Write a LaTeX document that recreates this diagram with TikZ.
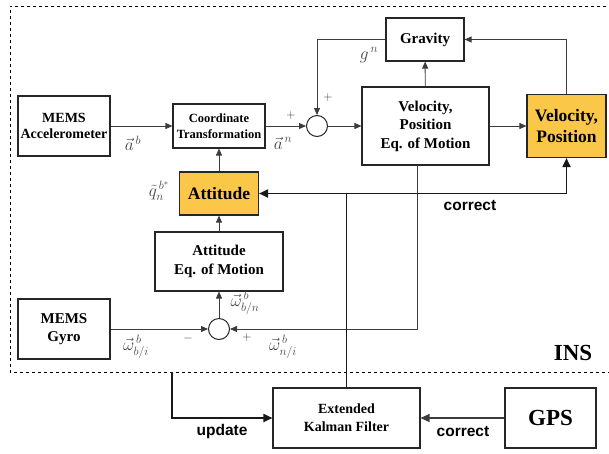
\documentclass[tikz,border=0pt]{standalone}
\usepackage{fontspec}
\setmainfont{Liberation Serif}
\newfontfamily\labelfont{Liberation Sans}
\usepackage{amsmath}
\usetikzlibrary{arrows.meta,calc}

\definecolor{insyellow}{RGB}{250,199,72}
\definecolor{linegray}{RGB}{60,60,60}
\definecolor{mathgray}{RGB}{70,70,70}

\begin{document}
\begin{tikzpicture}[x=1pt,y=-1pt,
  box/.style={draw=black!85,line width=1.1pt,fill=white,align=center,inner sep=1pt,
    font=\bfseries\fontsize{15}{18.5}\selectfont},
  hilite/.style={box,fill=insyellow,font=\bfseries\fontsize{17.5}{21}\selectfont},
  sumpt/.style={draw=black!85,line width=1pt,circle,fill=white,minimum size=21pt,inner sep=0pt},
  sig/.style={draw=linegray,line width=0.9pt,-{Triangle[length=7pt,width=6pt]}},
  bus/.style={draw=black!90,line width=1.8pt,-{Triangle[length=9pt,width=8pt]}},
  sym/.style={text=mathgray,inner sep=0pt,font=\fontsize{16.5}{18}\selectfont},
  sgn/.style={text=black!80,inner sep=0pt,font=\fontsize{12}{14}\selectfont},
  word/.style={font=\labelfont\bfseries\fontsize{15.5}{18}\selectfont}]
\useasboundingbox (0,0) rectangle (609,453);

% INS boundary
\draw[dashed,line width=0.8pt] (612,6) -- (10,6) -- (10,372) -- (612,372);
\node[font=\bfseries\fontsize{23}{26}\selectfont] (ins) at (573,353) {INS};

% Blocks
\node[box,minimum width=92pt,minimum height=60pt,font=\bfseries\fontsize{14}{16}\selectfont] (acc) at (64,126) {MEMS\\Accelerometer};
\node[box,minimum width=92pt,minimum height=44pt,font=\bfseries\fontsize{12.5}{16}\selectfont] (ct) at (219,126) {Coordinate\\Transformation};
\node[hilite,minimum width=79pt,minimum height=43pt] (att) at (219,193.5) {Attitude};
\node[sumpt] (sumacc) at (317,126) {};
\node[box,minimum width=78pt,minimum height=43pt] (grav) at (425,39.5) {Gravity};
\node[box,minimum width=127pt,minimum height=78pt] (vpe) at (425.5,126) {Velocity,\\Position\\Eq. of Motion};
\node[hilite,minimum width=79pt,minimum height=63pt] (vp) at (566.5,126) {Velocity,\\Position};
\node[box,minimum width=128pt,minimum height=59pt] (aeom) at (219,261.5) {Attitude\\Eq. of Motion};
\node[sumpt] (sumgyro) at (219,329) {};
\node[box,minimum width=92pt,minimum height=60pt] (gyro) at (64,329) {MEMS\\Gyro};
\node[box,minimum width=147pt,minimum height=60pt,font=\bfseries\fontsize{14}{18}\selectfont] (ekf) at (346.5,418) {Extended\\Kalman Filter};
\node[box,minimum width=91pt,minimum height=60pt,font=\bfseries\fontsize{23}{26}\selectfont] (gps) at (550.5,418) {GPS};

% Free ends
\coordinate (vpeout) at (417,165);
\coordinate (split) at (346.5,193.5);
\coordinate (insout) at (172,372);

% Signal flow
\draw[sig] (acc) -- (ct);
\draw[sig] (ct) -- (sumacc);
\draw[sig] (sumacc) -- (vpe);
\draw[sig] (vpe) -- (vp);
\draw[sig] (vpe) -- (grav);
\draw[sig] (vp.north) |- (grav.east);
\draw[sig] (grav.west) -| (sumacc.north);
\draw[sig] (att) -- (ct);
\draw[sig] (aeom) -- (att);
\draw[sig] (sumgyro) -- (aeom);
\draw[sig] (gyro) -- (sumgyro);
\draw[sig] (vpeout) |- (sumgyro.east);

% Corrections and update
\draw[bus,-] (ekf.north) -- (split);
\draw[bus] (split) -- (att.east);
\draw[bus] (split) -| (vp.south);
\draw[bus] (insout) |- (ekf.west);
\draw[sig,line width=1.2pt,-{Triangle[length=9pt,width=8pt]}] (gps) -- (ekf);

% Labels
\node[sym] (lab) at (133,143) {$\vec{a}^{\,b}$};
\node[sym] (lan) at (283,143) {$\vec{a}^{\,n}$};
\node[sym] (lq) at (159,191) {$\tilde{q}_{n}^{\,b^{*}}$};
\node[sym] (lg) at (369,55) {$g^{\,n}$};
\node[sym] (lwbn) at (245,303) {$\vec{\omega}_{b/n}^{\,b}$};
\node[sym] (lwbi) at (136,347) {$\vec{\omega}_{b/i}^{\,b}$};
\node[sym] (lwni) at (283,347) {$\vec{\omega}_{n/i}^{\,b}$};
\node[sgn] (p1) at (291,115) {$+$};
\node[sgn] (p2) at (328,97) {$+$};
\node[sgn] (m1) at (188,338) {$-$};
\node[sgn] (p3) at (247,337) {$+$};
\node[word] (corr1) at (470,206) {correct};
\node[word] (upd) at (222,431) {update};
\node[word] (corr2) at (463,432) {correct};
\end{tikzpicture}
\end{document}
